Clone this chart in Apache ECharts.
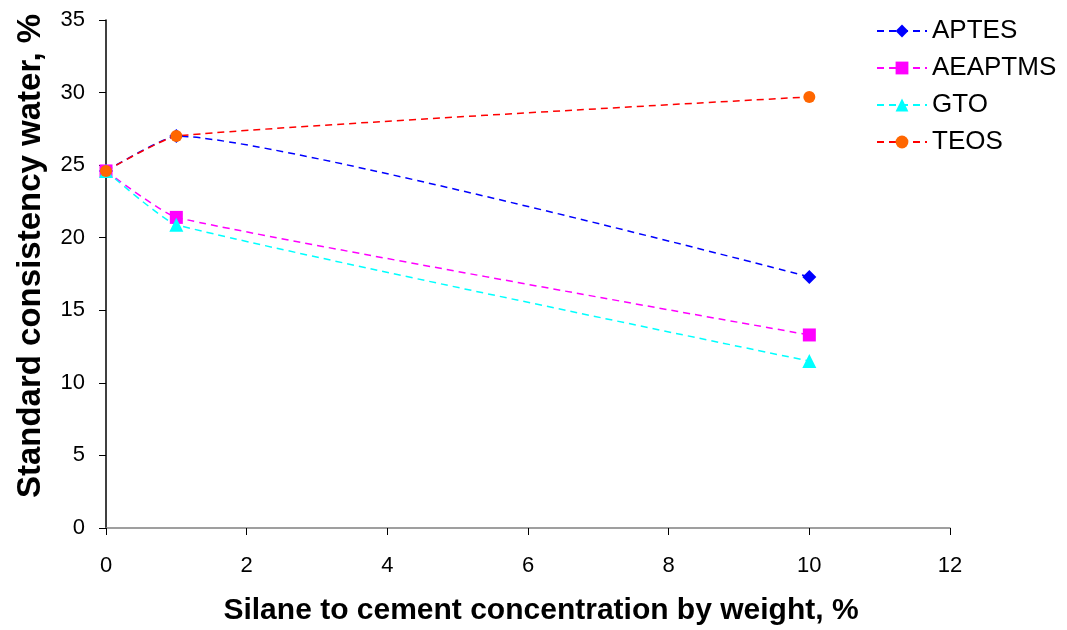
<!DOCTYPE html>
<html><head><meta charset="utf-8">
<script src="https://cdn.jsdelivr.net/npm/echarts@6/dist/echarts.min.js"></script>
<style>html,body{margin:0;padding:0;background:#fff}#c{width:1067px;height:630px}</style>
</head><body><div id="c"></div>
<script>
const xValues = [0, 1, 10];
const aptes = [24.6, 27.0, 17.3];
const aeaptms = [24.6, 21.4, 13.3];
const gto = [24.6, 20.9, 11.5];
const teos = [24.6, 27.0, 29.7];
const seriesNames = ['APTES', 'AEAPTMS', 'GTO', 'TEOS'];
const xTitle = 'Silane to cement concentration by weight, %';
const yTitle = 'Standard consistency water, %';

function pairs(v){ return xValues.map((x,i)=>[x, v[i]]); }
const F = '"Liberation Sans", Arial, sans-serif';
function mk(name, data, lineColor, symColor, symbol, size){
  return {
    name, type:'line', data: pairs(data), smooth: 0.15,
    symbol, symbolSize: size,
    lineStyle:{color: lineColor, width:1.5, type:[7,5]},
    itemStyle:{color: symColor},
    emphasis:{disabled:true}
  };
}
const chart = echarts.init(document.getElementById('c'));
chart.setOption({
  animation:false,
  backgroundColor:'#fff',
  textStyle:{fontFamily:F},
  grid:{left:106, right:117, top:20, bottom:102, containLabel:false, outerBoundsMode:'none'},
  legend:{
    orient:'vertical', left:871, top:13, itemGap:11, itemWidth:50, itemHeight:16,
    textStyle:{fontSize:26, color:'#000', fontFamily:F},
    data: seriesNames
  },
  xAxis:{
    type:'value', min:0, max:12, interval:2,
    name:xTitle, nameLocation:'middle', nameGap:68,
    nameTextStyle:{fontSize:30, fontWeight:'bold', color:'#000', fontFamily:F, padding:[0,0,0,26]},
    axisLine:{lineStyle:{color:'#808080', width:1.5}},
    axisTick:{show:true, length:7, lineStyle:{color:'#000'}},
    axisLabel:{fontSize:22, color:'#000', margin:27, fontFamily:F},
    splitLine:{show:false}
  },
  yAxis:{
    type:'value', min:0, max:35, interval:5,
    name:yTitle, nameLocation:'middle', nameGap:59,
    nameTextStyle:{fontSize:33, fontWeight:'bold', color:'#000', fontFamily:F, padding:[0,0,0,36]},
    axisLine:{show:true, lineStyle:{color:'#000', width:1.5}},
    axisTick:{show:true, length:7, lineStyle:{color:'#000'}},
    axisLabel:{fontSize:22, color:'#000', margin:21, fontFamily:F},
    splitLine:{show:false}
  },
  series:[
    mk('APTES', aptes, '#0000FF', '#0000FF', 'diamond', 14),
    mk('AEAPTMS', aeaptms, '#FF00FF', '#FF00FF', 'rect', 13),
    mk('GTO', gto, '#00FFFF', '#00FFFF', 'triangle', 14),
    mk('TEOS', teos, '#FF0000', '#FF6600', 'circle', 12)
  ]
});
</script></body></html>
